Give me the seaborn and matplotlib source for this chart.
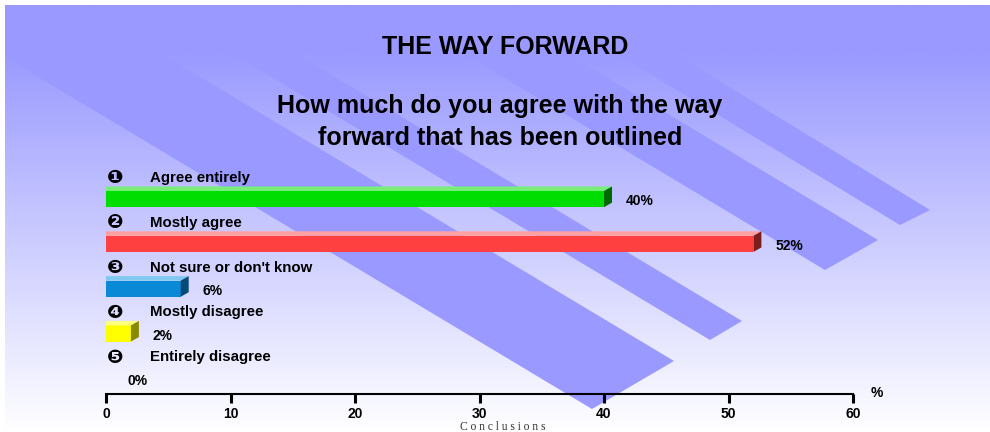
import numpy as np
import pandas as pd
import matplotlib
matplotlib.use("Agg")
import matplotlib.pyplot as plt
from matplotlib.patches import Polygon
import seaborn as sns

# ---------------- data ----------------
categories = ["Agree entirely", "Mostly agree", "Not sure or don't know",
              "Mostly disagree", "Entirely disagree"]
markers = ["\u2776", "\u2777", "\u2778", "\u2779", "\u277a"]
values = [40, 52, 6, 2, 0]
front_colors = ["#00dd00", "#ff4040", "#0a8ad6", "#ffff00", "#aaaaaa"]
top_colors = ["#77ee77", "#ffa0a0", "#80c8f0", "#ffff80", "#cccccc"]
side_colors = ["#006a00", "#7a1e1e", "#064a78", "#8a8a00", "#666666"]
xticks = [0, 10, 20, 30, 40, 50, 60]
title = "THE WAY FORWARD"
subtitle = "How much do you agree with the way\nforward that has been outlined"
footer = "C o n c l u s i o n s"

df = pd.DataFrame({"category": categories, "value": values})

sns.set_theme(style="white")
plt.rcParams["font.family"] = ["Liberation Sans", "DejaVu Sans"]
plt.rcParams["text.color"] = "black"
plt.rcParams["xtick.color"] = "black"
plt.rcParams["xtick.labelcolor"] = "black"

W, H = 990, 432
fig = plt.figure(figsize=(W / 100, H / 100), dpi=100)
fig.patch.set_facecolor("white")

# ---------------- decorative background ----------------
ax_bg = fig.add_axes([5 / W, 0, (W - 5) / W, (H - 5) / H], zorder=0)
ax_bg.set_xlim(5, W)
ax_bg.set_ylim(H, 5)
ax_bg.axis("off")
ys = np.arange(5, H + 1)
t = np.clip((ys - 50) / (H - 50), 0, 1)[:, None]
top_c = np.array([0x99, 0x99, 0xff]) / 255
grad = top_c + t * (np.array([1.0, 1.0, 1.0]) - top_c)
ax_bg.imshow(grad[:, None, :], extent=[5, W, H, 5], aspect="auto", interpolation="bilinear")
stripe_color = "#9999ff"
stripes = [
    [(5, -40), (674, 361), (592, 409), (5, 57)],
    [(5, -121), (742, 321), (710, 340), (5, -83)],
    [(5, -284), (878, 240), (825, 270), (5, -222)],
    [(5, -357), (930, 210), (900, 225), (5, -317)],
]
for poly in stripes:
    ax_bg.add_patch(Polygon(poly, closed=True, facecolor=stripe_color, edgecolor="none"))
ax_bg.set_xlim(5, W)
ax_bg.set_ylim(H, 5)

# ---------------- main chart ----------------
ax = fig.add_axes([106 / W, 38 / H, (853 - 106) / W, (394 - 165) / H], zorder=1)
ax.patch.set_alpha(0)
sns.barplot(data=df, x="value", y="category", hue="category", palette=front_colors,
            orient="h", width=0.36, legend=False, ax=ax, saturation=1, linewidth=0)
ax.set_xlim(0, 60)
ax.set_ylim(4.35, -0.76)

px_per_x = (853 - 106) / 60.0
px_per_y = (394 - 165) / (4.35 + 0.76)
dx = 8 / px_per_x
dy = 4.5 / px_per_y

for i, p in enumerate(ax.patches[:len(values)]):
    x0, w = p.get_x(), p.get_width()
    y0, h = p.get_y(), p.get_height()
    if values[i] <= 0:
        p.set_visible(False)
    else:
        ytop = min(y0, y0 + h)
        ybot = max(y0, y0 + h)
        ax.add_patch(Polygon([(x0, ytop), (x0 + w, ytop), (x0 + w + dx, ytop - dy), (x0, ytop - dy)],
                             closed=True, facecolor=top_colors[i], edgecolor="none", zorder=3))
        ax.add_patch(Polygon([(x0 + w, ytop), (x0 + w + dx, ytop - dy), (x0 + w + dx, ybot - dy), (x0 + w, ybot)],
                             closed=True, facecolor=side_colors[i], edgecolor="none", zorder=3))
    yc = y0 + h / 2
    # number marker and category label
    ax.text(0.72, yc - 0.47, markers[i], ha="center", va="center", fontsize=14,
            fontweight="bold", color="black", family=["DejaVu Sans"])
    ax.text(3.53, yc - 0.47, categories[i], ha="left", va="center", fontsize=10.8,
            fontweight="bold", color="black")
    # value label
    ax.text(values[i] + 1.75, yc + 0.05, f"{values[i]}%", ha="left", va="center",
            fontsize=10, fontweight="bold", color="black")

ax.set_ylabel("")
ax.set_xlabel("")
ax.set_yticks([])
ax.set_xticks(xticks)
ax.set_xticklabels([str(v) for v in xticks], fontsize=10, fontweight="bold", color="black")
ax.tick_params(axis="x", direction="out", length=6.5, width=2.2, color="black", pad=2.5, bottom=True)
for s in ["top", "right", "left"]:
    ax.spines[s].set_visible(False)
ax.spines["bottom"].set_color("black")
ax.spines["bottom"].set_linewidth(1.5)
ax.text(61.9, 4.32, "%", ha="center", va="center", fontsize=10, fontweight="bold",
        transform=ax.transData, clip_on=False, color="black")

# ---------------- titles ----------------
fig.text(505 / W, 1 - 47 / H, title, ha="center", va="center", fontsize=18, fontweight="bold",
         color="black")
fig.text(500 / W, 1 - 122 / H, subtitle, ha="center", va="center", fontsize=18,
         fontweight="bold", linespacing=1.4, color="black")
fig.text(503 / W, 1 - 426.5 / H, footer, ha="center", va="center", fontsize=8.3,
         family=["Liberation Serif"], color="#333333")

fig.savefig("out.png", dpi=100)
